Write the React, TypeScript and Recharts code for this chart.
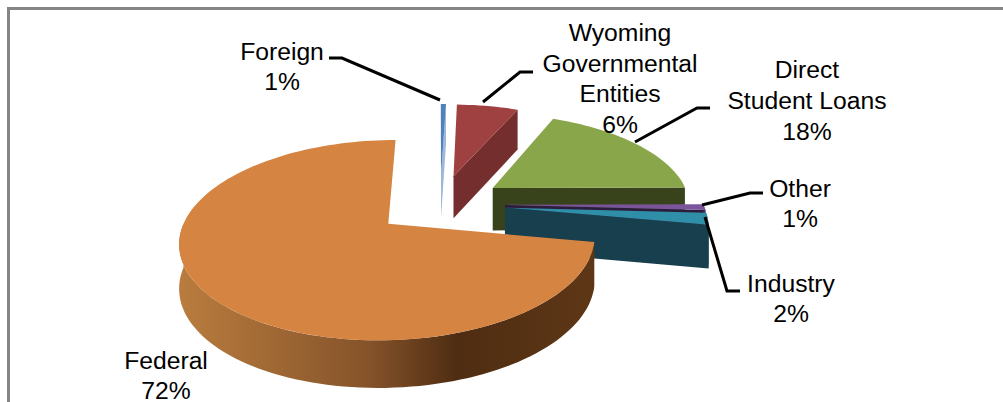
import { PieChart, Pie } from 'recharts';

const categories = ['Foreign', 'Wyoming Governmental Entities', 'Direct Student Loans', 'Other', 'Industry', 'Federal'];
// Foreign is drawn far thinner than a full 1%, so it sits at the low end of what rounds to 1%
const shares = [0.5, 6, 18.4, 1, 2, 72.1];

const topColors = ['#4f81bd', '#a04141', '#8aa64b', '#7b559c', '#2f8fa9', '#d58441'];
const faceColors = ['#9db8d8', '#742e2e', '#39431b', '#2c1d3c', '#173f4d', '#5a3415'];
const wallColors = ['#9db8d8', '#742e2e', '#39431b', '#4a3360', '#173f4d', 'url(#federalWall)'];

// text lines, centre x and first baseline for each label
const labelLines = [
  ['Foreign', '1%'],
  ['Wyoming', 'Governmental', 'Entities', '6%'],
  ['Direct', 'Student Loans', '18%'],
  ['Other', '1%'],
  ['Industry', '2%'],
  ['Federal', '72%'],
];
const labelX = [282, 620, 807, 800, 791, 166];
const labelY = [60, 41, 78, 197, 292, 369];
const labelPitch = [30, 30.5, 31, 30, 30, 29.5];

const leaders = [
  '329,58 342,58 440,100',
  '483,102 520,72 533,72',
  '635,142 697,108 710,108',
  '702,205 750,193 763,193',
  '705,217 727,291 740,291',
  '',
];

const WIDTH = 1003;
const HEIGHT = 402;
const EXPLODE = 65;
const TILT = 0.46;
const PERSPECTIVE = 0.0008;
const DEPTH = 43;

const rad = (d: number) => (d * Math.PI) / 180;

function Slice3D(props: any) {
  const { cx, cy, outerRadius: R, startAngle, endAngle, index } = props;
  // clockwise from 12 o'clock
  const from = 90 - startAngle;
  const to = 90 - endAngle;
  const mid = (from + to) / 2;
  const ox = EXPLODE * Math.sin(rad(mid));
  const oy = EXPLODE * Math.cos(rad(mid));

  const project = (u: number, v: number, down = 0) => {
    const s = 1 / (1 + PERSPECTIVE * v);
    const drop = down * (1 + (s - 1) * 0.45);
    return `${(cx + u * s).toFixed(1)},${(cy - v * TILT * s + drop).toFixed(1)}`;
  };
  const rim = (t: number, down = 0) =>
    project(ox + R * Math.sin(rad(t)), oy + R * Math.cos(rad(t)), down);

  const arc = (a: number, b: number, down = 0) => {
    const pts: string[] = [];
    const n = Math.max(2, Math.ceil((b - a) / 2));
    for (let i = 0; i <= n; i++) pts.push(rim(a + ((b - a) * i) / n, down));
    return pts;
  };

  const apex = project(ox, oy);
  const apexLow = project(ox, oy, DEPTH);
  const wallFrom = Math.max(from, 90);
  const wallTo = Math.min(to, 270);

  return (
    <g>
      <defs>
        <linearGradient id="federalWall" gradientUnits="userSpaceOnUse" x1="180" y1="0" x2="600" y2="0">
          <stop offset="0%" stopColor="#b97c3e" />
          <stop offset="45%" stopColor="#85532a" />
          <stop offset="66%" stopColor="#4f2d12" />
          <stop offset="100%" stopColor="#5e3716" />
        </linearGradient>
      </defs>
      {to <= 180 && (
        <polygon points={[apex, rim(to), rim(to, DEPTH), apexLow].join(' ')} fill={faceColors[index]} />
      )}
      {wallTo > wallFrom && (
        <polygon
          points={[...arc(wallFrom, wallTo), ...arc(wallFrom, wallTo, DEPTH).reverse()].join(' ')}
          fill={wallColors[index]}
        />
      )}
      <polygon points={[apex, ...arc(from, to)].join(' ')} fill={topColors[index]} />
    </g>
  );
}

function SliceLabel(props: any) {
  const i = props.index;
  return (
    <text
      x={labelX[i]}
      y={labelY[i]}
      textAnchor="middle"
      fontFamily="'Liberation Sans', Arial, sans-serif"
      fontSize={24.7}
      fill="#000"
    >
      {labelLines[i].map((line, k) => (
        <tspan key={k} x={labelX[i]} y={labelY[i] + k * labelPitch[i]}>
          {line}
        </tspan>
      ))}
    </text>
  );
}

function LeaderLine(props: any) {
  const pts = leaders[props.index];
  if (!pts) return <g />;
  return <polyline points={pts} fill="none" stroke="#000" strokeWidth={3} />;
}

const data = categories.map((name, i) => ({ name, value: shares[i] }));

export default function App() {
  return (
    <div
      style={{
        position: 'absolute',
        left: 0,
        top: 0,
        width: WIDTH,
        height: HEIGHT,
        background: '#fff',
        overflow: 'hidden',
      }}
    >
      <div
        style={{
          position: 'absolute',
          left: 7,
          top: 7,
          width: WIDTH,
          height: HEIGHT,
          borderLeft: '3px solid #858585',
          borderTop: '3px solid #858585',
        }}
      />
      <div style={{ position: 'absolute', left: 0, top: 0 }}>
        <PieChart width={WIDTH} height={HEIGHT} margin={{ top: 0, right: 0, bottom: 0, left: 0 }}>
          <Pie
            data={data}
            dataKey="value"
            nameKey="name"
            cx={440}
            cy={204}
            innerRadius={0}
            outerRadius={198}
            startAngle={90}
            endAngle={-270}
            stroke="none"
            shape={Slice3D}
            label={SliceLabel}
            labelLine={LeaderLine}
            isAnimationActive={false}
          />
        </PieChart>
      </div>
    </div>
  );
}
